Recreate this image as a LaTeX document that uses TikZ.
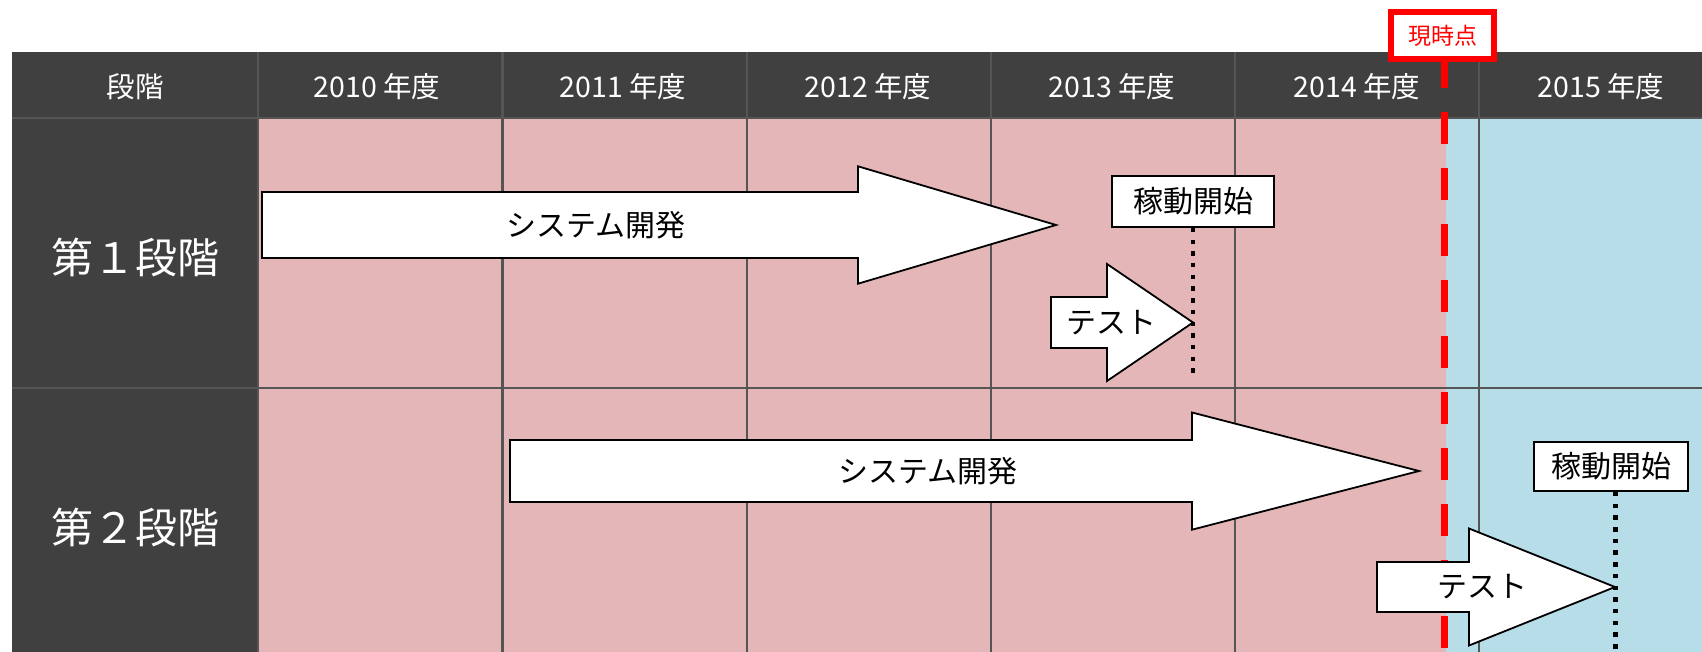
\documentclass[tikz,border=0pt]{standalone}
\usepackage{fontspec}
\setmainfont{Noto Sans CJK JP}
\definecolor{hdrc}{HTML}{404040}
\definecolor{pinkc}{HTML}{E4B6B7}
\definecolor{bluec}{HTML}{B7DDE8}
\definecolor{gridc}{HTML}{555555}
\definecolor{redc}{HTML}{FF0000}
\begin{document}
\begin{tikzpicture}[x=1pt,y=-1pt,
  gridline/.style={draw=gridc,line width=2.8pt},
  hdrtext/.style={text=white,inner sep=0pt,font=\fontsize{28.5}{32}\selectfont},
  stagetext/.style={text=white,inner sep=0pt,font=\fontsize{42}{48}\selectfont},
  bodytext/.style={text=black,inner sep=0pt,font=\fontsize{30}{34}\selectfont},
  bigarrow/.style={draw=black,fill=white,line width=1.8pt,line join=miter},
  milebox/.style={draw=black,fill=white,line width=1.8pt,inner sep=0pt,font=\fontsize{30}{34}\selectfont},
  dotline/.style={draw=black,line width=4.5pt,dash pattern=on 4.5pt off 7.2pt},
  nowline/.style={draw=redc,line width=7pt,dash pattern=on 32pt off 24pt}
]
\useasboundingbox (0,0) rectangle (1702,652);
% backgrounds
\fill[pinkc] (258,118) rectangle (1446,652);
\fill[bluec] (1446,118) rectangle (1702,652);
\fill[hdrc] (12,52) rectangle (1702,118);
\fill[hdrc] (12,118) rectangle (258,652);
% grid
\foreach \gx in {258,502.5,747,991,1235,1479} {
  \draw[gridline] (\gx,52) -- (\gx,652);
}
\draw[gridline] (12,118) -- (1702,118);
\draw[gridline] (12,388) -- (1702,388);
% header texts
\node[hdrtext] (h0) at (135,87) {段階};
\node[hdrtext] (h1) at (377,87) {2010 年度};
\node[hdrtext] (h2) at (623,87) {2011 年度};
\node[hdrtext] (h3) at (868,87) {2012 年度};
\node[hdrtext] (h4) at (1112,87) {2013 年度};
\node[hdrtext] (h5) at (1357,87) {2014 年度};
\node[hdrtext] (h6) at (1601,87) {2015 年度};
% stage labels
\node[stagetext] (s1) at (135,257) {第１段階};
\node[stagetext] (s2) at (135,527) {第２段階};
% current-time line
\draw[nowline] (1444,56) -- (1444,652);
\node[draw=redc,line width=6pt,fill=white,minimum width=103pt,minimum height=47pt,inner sep=0pt,
      text=redc,font=\fontsize{23}{26}\selectfont] (now) at (1442.5,35.5) {現時点};
% stage 1
\draw[bigarrow] (262,192) -- (858,192) -- (858,166.3) -- (1056,225) -- (858,283.7) -- (858,258) -- (262,258) -- cycle;
\node[bodytext] (dev1) at (596,225) {システム開発};
\draw[bigarrow] (1051,297) -- (1107,297) -- (1107,264) -- (1193,322.5) -- (1107,381) -- (1107,348) -- (1051,348) -- cycle;
\node[bodytext] (test1) at (1111,323) {テスト};
\node[milebox,minimum width=162pt,minimum height=51pt] (go1) at (1193,201.5) {稼動開始};
\coordinate (end1) at (1193,373);
\draw[dotline] (go1.south) -- (end1);
% stage 2
\draw[bigarrow] (510,440) -- (1192,440) -- (1192,412.5) -- (1419,471) -- (1192,529.7) -- (1192,502) -- (510,502) -- cycle;
\node[bodytext] (dev2) at (928,471) {システム開発};
\draw[bigarrow] (1377,562) -- (1469,562) -- (1469,528.5) -- (1615,587) -- (1469,645.5) -- (1469,612) -- (1377,612) -- cycle;
\node[bodytext] (test2) at (1482,587) {テスト};
\node[milebox,minimum width=154pt,minimum height=49pt] (go2) at (1611,466.5) {稼動開始};
\coordinate (end2) at (1615.5,652);
\draw[dotline] (go2.south -| end2) -- (end2);
\end{tikzpicture}
\end{document}
